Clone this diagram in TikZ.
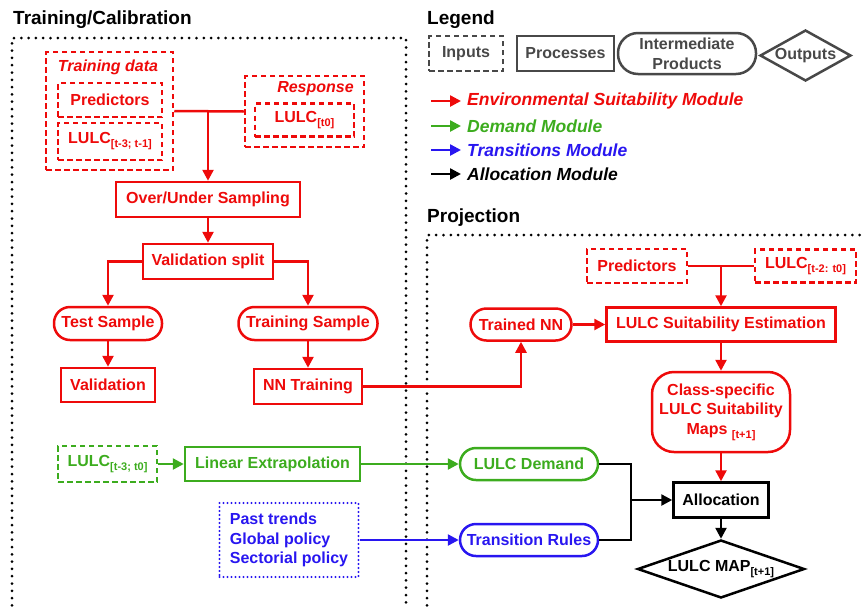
\documentclass[tikz,border=0pt]{standalone}
\usepackage{fontspec}
\setmainfont{Liberation Sans}
\usetikzlibrary{arrows.meta,shapes.geometric}
\definecolor{cR}{RGB}{238,10,10}
\definecolor{cG}{RGB}{60,172,30}
\definecolor{cB}{RGB}{40,22,240}
\definecolor{cK}{RGB}{0,0,0}
\definecolor{cGr}{RGB}{72,72,72}
\newcommand{\lsub}[1]{\raisebox{-4pt}{\fontsize{11}{12}\selectfont #1}}
\begin{document}
\begin{tikzpicture}[x=1pt,y=-1pt,
  base/.style={font=\fontsize{16}{19.5}\selectfont\bfseries, inner sep=0pt, line width=2.5pt, align=center},
  inbox/.style={base, draw, dash pattern=on 5.5pt off 3.5pt},
  dotbox/.style={base, draw, line width=2.4pt, dash pattern=on 0pt off 4pt, line cap=round},
  procbox/.style={base, draw},
  prodbox/.style={base, draw, rounded corners=16pt},
  outbox/.style={base, draw, diamond, aspect=2.88},
  txt/.style={base},
  ttl/.style={font=\fontsize{19}{22}\selectfont\bfseries, inner sep=0pt, anchor=west},
  lgtxt/.style={font=\fontsize{17.5}{20}\selectfont\bfseries\itshape, inner sep=0pt, anchor=west},
  conn/.style={line width=2.5pt, -{Triangle[length=11pt,width=11pt]}},
  plain/.style={line width=2.5pt},
  frame/.style={line width=3pt, dash pattern=on 0pt off 7.3pt, line cap=round, black}
]
\useasboundingbox (0,0) rectangle (862,606);

% titles
\node[ttl] (tTrain) at (13,20) {Training/Calibration};
\node[ttl] (tLeg) at (427,20) {Legend};
\node[ttl] (tProj) at (427,218) {Projection};

% frames
\draw[frame] (12,620) -- (12,38) -- (406,38) -- (406,620);
\draw[frame] (427,620) -- (427,235) -- (870,235);

% legend
\node[inbox, cGr, minimum width=74pt, minimum height=35pt] (lgIn) at (466,53.5) {Inputs};
\node[procbox, cGr, minimum width=97pt, minimum height=35pt] (lgPr) at (565.5,53.5) {Processes};
\node[prodbox, cGr, rounded corners=20pt, minimum width=138pt, minimum height=41pt, font=\fontsize{16}{20}\selectfont\bfseries] (lgIP) at (687,53.5) {Intermediate\\Products};
\node[base, draw, diamond, aspect=1.78, cGr, minimum width=91pt, minimum height=51pt] (lgOut) at (805.5,55.5) {Outputs};

\coordinate (lr1) at (431,101); \coordinate (lr2) at (461,101);
\coordinate (lg1) at (431,126); \coordinate (lg2) at (461,126);
\coordinate (lb1) at (431,150); \coordinate (lb2) at (461,150);
\coordinate (lk1) at (431,174); \coordinate (lk2) at (461,174);
\draw[conn, cR] (lr1) -- (lr2);
\draw[conn, cG] (lg1) -- (lg2);
\draw[conn, cB] (lb1) -- (lb2);
\draw[conn, cK] (lk1) -- (lk2);
\node[lgtxt, cR] (lgR) at (467,101) {Environmental Suitability Module};
\node[lgtxt, cG] (lgG) at (467,126) {Demand Module};
\node[lgtxt, cB] (lgB) at (467,150) {Transitions Module};
\node[lgtxt, cK] (lgK) at (467,174) {Allocation Module};

% training / calibration
\node[inbox, cR, minimum width=127pt, minimum height=118pt] (tdata) at (109.5,111) {};
\node[txt, cR, font=\fontsize{16}{19.5}\selectfont\bfseries\itshape] (tdataL) at (108,67) {Training data};
\node[inbox, cR, minimum width=104pt, minimum height=34pt] (pred1) at (110,100) {Predictors};
\node[inbox, cR, minimum width=104pt, minimum height=37pt] (lulc1) at (110,141.5) {LULC\lsub{[t-3; t-1]}};
\node[inbox, cR, minimum width=119pt, minimum height=71pt] (resp) at (304.5,111.5) {};
\node[txt, cR, font=\fontsize{16}{19.5}\selectfont\bfseries\itshape] (respL) at (315.5,89) {Response};
\node[inbox, cR, minimum width=99pt, minimum height=33pt] (lulct0) at (304.5,120) {LULC\lsub{[t0]}};

\node[procbox, cR, minimum width=184pt, minimum height=35pt] (over) at (208,199.5) {Over/Under Sampling};
\node[procbox, cR, minimum width=130pt, minimum height=35pt] (vsplit) at (208,261.5) {Validation split};
\node[prodbox, cR, minimum width=108pt, minimum height=33pt] (test) at (108,323.5) {Test Sample};
\node[prodbox, cR, minimum width=139pt, minimum height=33pt] (trainS) at (308,323.5) {Training Sample};
\node[procbox, cR, minimum width=94pt, minimum height=34pt] (valid) at (108,385) {Validation};
\node[procbox, cR, minimum width=108pt, minimum height=35pt] (nntr) at (308,386.5) {NN Training};

\draw[plain, cR] (tdata.east) -- (resp.west);
\draw[conn, cR] (tdata.east -| over.north) -- (over.north);
\draw[conn, cR] (over.south) -- (vsplit.north);
\draw[conn, cR] (vsplit.west) -| (test.north);
\draw[conn, cR] (vsplit.east) -| (trainS.north);
\draw[conn, cR] (test.south) -- (valid.north);
\draw[conn, cR] (trainS.south) -- (nntr.north);

% projection
\node[prodbox, cR, minimum width=101pt, minimum height=32pt] (tnn) at (521,324.5) {Trained NN};
\node[inbox, cR, minimum width=100pt, minimum height=34pt] (pred2) at (637,266) {Predictors};
\node[inbox, cR, minimum width=101pt, minimum height=33pt] (lulc2) at (805.5,266) {LULC\lsub{[t-2: t0]}};
\node[procbox, cR, minimum width=229pt, minimum height=34pt] (est) at (721,324.5) {LULC Suitability Estimation};
\node[prodbox, cR, rounded corners=22pt, minimum width=138pt, minimum height=80pt] (cls) at (721,412) {Class-specific\\LULC Suitability\\Maps \lsub{[t+1]}};
\node[procbox, cK, minimum width=95pt, minimum height=35pt] (alloc) at (721,500) {Allocation};
\node[outbox, cK, minimum width=167pt, minimum height=58pt] (map) at (721,569) {LULC MAP\lsub{[t+1]}};

\draw[conn, cR] (nntr.east) -| (tnn.south);
\draw[conn, cR] (tnn.east) -- (est.west);
\draw[plain, cR] (pred2.east) -- (lulc2.west);
\draw[conn, cR] (pred2.east -| est.north) -- (est.north);
\draw[conn, cR] (est.south) -- (cls.north);
\draw[conn, cR] (cls.south) -- (alloc.north);
\draw[conn, cK] (alloc.south) -- (map.north);

% demand
\node[inbox, cG, minimum width=99pt, minimum height=36pt] (lulc3) at (107.5,464) {LULC\lsub{[t-3; t0]}};
\node[procbox, cG, minimum width=175pt, minimum height=34pt] (linex) at (272.5,464) {Linear Extrapolation};
\node[prodbox, cG, minimum width=138pt, minimum height=32pt] (dem) at (529,464) {LULC Demand};
\draw[conn, cG] (lulc3.east) -- (linex.west);
\draw[conn, cG] (linex.east) -- (dem.west);

% transitions
\node[dotbox, cB, align=left, minimum width=139pt, minimum height=74pt] (policy) at (289,540) {Past trends\\Global policy\\Sectorial policy};
\node[prodbox, cB, minimum width=138pt, minimum height=32pt] (trans) at (529,540) {Transition Rules};
\draw[conn, cB] (policy.east) -- (trans.west);

% allocation joins
\coordinate (jn) at (631,500);
\draw[plain, cK] (dem.east) -| (jn) |- (trans.east);
\draw[conn, cK] (jn) -- (alloc.west);
\end{tikzpicture}
\end{document}
